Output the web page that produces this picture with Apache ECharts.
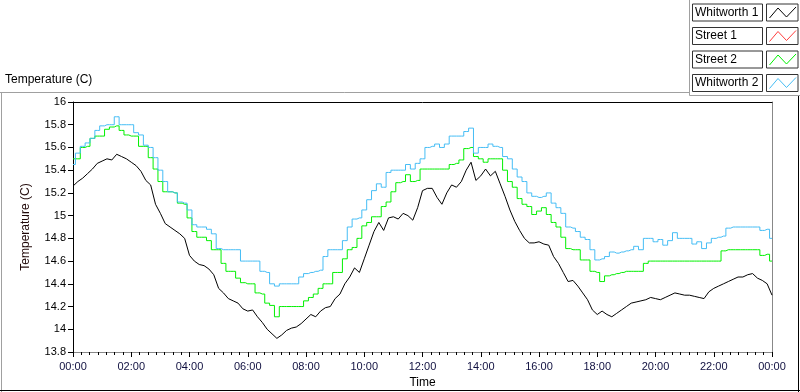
<!DOCTYPE html>
<html>
<head>
<meta charset="utf-8">
<script src="https://cdn.jsdelivr.net/npm/echarts@6/dist/echarts.min.js"></script>
<style>
html,body{margin:0;padding:0;background:#fff;}
#chart{width:800px;height:392px;}
</style>
</head>
<body>
<div id="chart"></div>
<script>
// sample spacing of the series (minutes)
const sampleMinutes = 10;
const seriesNames = ['Whitworth 1', 'Street 1', 'Street 2', 'Whitworth 2'];
const seriesColors = ['#000000', '#ff3c3c', '#00f000', '#45bdf5'];
const xTickLabels = ['00:00','02:00','04:00','06:00','08:00','10:00','12:00','14:00','16:00','18:00','20:00','22:00','00:00'];

const whitworth1 = [
15.26,15.30,15.33,15.37,15.41,15.46,15.48,15.50,15.49,15.54,15.52,15.50,
15.47,15.44,15.39,15.31,15.27,15.10,15.02,14.93,14.90,14.87,14.84,14.80,
14.65,14.60,14.57,14.56,14.53,14.48,14.36,14.32,14.27,14.25,14.23,14.18,
14.16,14.17,14.11,14.06,14.00,13.96,13.92,13.95,13.99,14.01,14.02,14.05,
14.09,14.13,14.11,14.16,14.19,14.20,14.27,14.31,14.40,14.46,14.54,14.50,
14.62,14.74,14.86,14.94,14.87,14.98,14.99,14.97,15.02,15.00,14.96,15.07,
15.22,15.24,15.24,15.16,15.10,15.20,15.27,15.25,15.30,15.40,15.47,15.31,
15.35,15.41,15.35,15.39,15.28,15.17,15.05,14.95,14.87,14.80,14.76,14.76,
14.77,14.75,14.74,14.64,14.58,14.50,14.42,14.43,14.38,14.32,14.26,14.17,
14.13,14.16,14.13,14.11,14.14,14.17,14.20,14.23,14.24,14.25,14.26,14.28,
14.27,14.26,14.28,14.30,14.32,14.31,14.30,14.30,14.29,14.28,14.27,14.33,
14.36,14.38,14.40,14.42,14.44,14.46,14.46,14.48,14.49,14.45,14.43,14.40,
14.30];

const street1 = [];

const street2 = [
15.50,15.50,15.60,15.61,15.68,15.70,15.70,15.76,15.78,15.79,15.75,15.71,
15.70,15.70,15.61,15.61,15.51,15.41,15.30,15.21,15.21,15.20,15.11,15.10,
14.98,14.86,14.81,14.81,14.78,14.70,14.70,14.58,14.51,14.51,14.45,14.41,
14.40,14.40,14.32,14.31,14.23,14.21,14.11,14.20,14.20,14.20,14.20,14.20,
14.25,14.28,14.31,14.36,14.40,14.40,14.50,14.50,14.62,14.70,14.72,14.80,
14.91,14.94,14.99,14.99,15.08,15.12,15.21,15.29,15.30,15.36,15.30,15.31,
15.41,15.41,15.41,15.41,15.41,15.41,15.45,15.46,15.49,15.59,15.60,15.52,
15.50,15.47,15.50,15.50,15.50,15.40,15.30,15.25,15.15,15.10,15.08,15.01,
15.04,15.07,15.01,14.94,14.90,14.81,14.71,14.70,14.70,14.61,14.61,14.51,
14.50,14.42,14.47,14.48,14.49,14.50,14.51,14.51,14.51,14.51,14.58,14.60,
14.60,14.60,14.60,14.60,14.60,14.60,14.60,14.60,14.60,14.60,14.60,14.60,
14.60,14.60,14.69,14.70,14.70,14.70,14.70,14.70,14.70,14.70,14.65,14.66,
14.60];

const whitworth2 = [
15.45,15.55,15.61,15.64,15.68,15.75,15.79,15.80,15.80,15.87,15.80,15.80,
15.80,15.73,15.71,15.62,15.60,15.51,15.40,15.30,15.21,15.20,15.12,15.11,
15.05,14.92,14.90,14.90,14.88,14.84,14.71,14.70,14.70,14.70,14.70,14.60,
14.60,14.60,14.60,14.51,14.50,14.40,14.38,14.40,14.40,14.40,14.40,14.46,
14.49,14.50,14.51,14.52,14.64,14.70,14.70,14.70,14.78,14.90,14.97,14.98,
15.05,15.14,15.22,15.28,15.25,15.38,15.40,15.40,15.40,15.45,15.41,15.46,
15.50,15.60,15.61,15.63,15.60,15.63,15.70,15.70,15.70,15.74,15.77,15.55,
15.60,15.60,15.63,15.61,15.60,15.52,15.50,15.41,15.34,15.30,15.20,15.17,
15.16,15.17,15.20,15.11,15.07,15.02,14.90,14.89,14.86,14.81,14.79,14.70,
14.61,14.62,14.64,14.68,14.67,14.68,14.69,14.70,14.73,14.70,14.80,14.80,
14.77,14.79,14.74,14.78,14.85,14.80,14.80,14.80,14.75,14.77,14.71,14.76,
14.80,14.81,14.82,14.89,14.90,14.90,14.90,14.90,14.90,14.90,14.87,14.88,
14.80];

function pairs(arr){ return arr.map((v,i)=>[i*sampleMinutes/60, v]); }

const FONT = 'Liberation Sans';
const chart = echarts.init(document.getElementById('chart'), null, {renderer:'canvas'});

// legend drawn as graphics (LabVIEW style plot legend)
const legendRowsTop = [4, 27.5, 51, 74.5];
const legendGraphics = [];
seriesNames.forEach((name, i) => {
  const top = legendRowsTop[i];
  legendGraphics.push({
    type:'rect', shape:{x:692.5, y:top, width:70, height:17},
    style:{fill:'#fff', stroke:'#333', lineWidth:1}, silent:true
  });
  legendGraphics.push({
    type:'text', x:695, y:top+8.5,
    style:{text:name, font:'12px "'+FONT+'"', fill:'#000', verticalAlign:'middle', align:'left'}, silent:true
  });
  legendGraphics.push({
    type:'rect', shape:{x:766.5, y:top, width:31.5, height:17},
    style:{fill:'#fff', stroke:'#333', lineWidth:1}, silent:true
  });
  legendGraphics.push({
    type:'polyline', shape:{points:[[769.5,top+14],[778,top+4],[786.5,top+13],[796,top+3]]},
    style:{stroke:seriesColors[i], lineWidth:1, fill:null}, silent:true
  });
});

const option = {
  backgroundColor:'#fff',
  animation:false,
  grid:{left:73, right:28, top:102, bottom:40, outerBoundsMode:'none', containLabel:false},
  graphic:[
    // outer frame
    {type:'line', shape:{x1:0, y1:92.5, x2:689.5, y2:92.5}, style:{stroke:'#a0a0a0', lineWidth:1}, silent:true},
    {type:'line', shape:{x1:1.5, y1:92.5, x2:1.5, y2:392}, style:{stroke:'#a0a0a0', lineWidth:1}, silent:true},
    {type:'line', shape:{x1:0, y1:390.5, x2:800, y2:390.5}, style:{stroke:'#000', lineWidth:1}, silent:true},
    {type:'line', shape:{x1:798.5, y1:95.5, x2:798.5, y2:392}, style:{stroke:'#000', lineWidth:1}, silent:true},
    {type:'line', shape:{x1:689.5, y1:0, x2:689.5, y2:95.5}, style:{stroke:'#a0a0a0', lineWidth:1}, silent:true},
    {type:'line', shape:{x1:689.5, y1:95.5, x2:800, y2:95.5}, style:{stroke:'#a0a0a0', lineWidth:1}, silent:true},
    {type:'text', x:5, y:80, style:{text:'Temperature (C)', font:'12px "'+FONT+'"', fill:'#000', verticalAlign:'middle'}, silent:true}
  ].concat(legendGraphics),
  xAxis:[{
    type:'value', min:0, max:24, interval:2,
    name:'Time', nameLocation:'middle', nameGap:24,
    nameTextStyle:{fontFamily:FONT, fontSize:12, color:'#000'},
    axisLine:{show:true, onZero:false, lineStyle:{color:'#888', width:1}},
    axisTick:{show:true, inside:false, length:5, lineStyle:{color:'#000'}},
    minorTick:{show:true, splitNumber:7, length:3, lineStyle:{color:'#000'}},
    splitLine:{show:false},
    axisLabel:{margin:9, fontFamily:FONT, fontSize:11, color:'#101040',
      formatter:(v)=>xTickLabels[Math.round(v/2)]}
  },{
    type:'value', min:0, max:24, position:'top',
    axisLine:{show:true, onZero:false, lineStyle:{color:'#000', width:1}},
    axisTick:{show:false}, axisLabel:{show:false}, splitLine:{show:false}
  }],
  yAxis:[{
    type:'value', min:13.8, max:16, interval:0.2,
    name:'Temperature (C)', nameLocation:'middle', nameGap:41, nameRotate:90,
    nameTextStyle:{fontFamily:FONT, fontSize:12, color:'#200808'},
    axisLine:{show:true, onZero:false, lineStyle:{color:'#000', width:1}},
    axisTick:{show:true, length:5, lineStyle:{color:'#000'}},
    splitLine:{show:false},
    axisLabel:{margin:7, fontFamily:FONT, fontSize:11, color:'#000',
      formatter:(v)=>String(Math.round(v*10)/10)}
  },{
    type:'value', min:13.8, max:16, position:'right',
    axisLine:{show:true, onZero:false, lineStyle:{color:'#888', width:1}},
    axisTick:{show:false}, axisLabel:{show:false}, splitLine:{show:false}
  }],
  series:[
    {name:seriesNames[0], type:'line', data:pairs(whitworth1), showSymbol:false, symbol:'none',
      lineStyle:{color:seriesColors[0], width:1}, itemStyle:{color:seriesColors[0]}, z:2},
    {name:seriesNames[1], type:'line', data:pairs(street1), showSymbol:false, symbol:'none',
      lineStyle:{color:seriesColors[1], width:1}, itemStyle:{color:seriesColors[1]}, z:3},
    {name:seriesNames[2], type:'line', data:pairs(street2), step:'middle', showSymbol:false, symbol:'none',
      lineStyle:{color:seriesColors[2], width:1}, itemStyle:{color:seriesColors[2]}, z:4},
    {name:seriesNames[3], type:'line', data:pairs(whitworth2), step:'middle', showSymbol:false, symbol:'none',
      lineStyle:{color:seriesColors[3], width:1}, itemStyle:{color:seriesColors[3]}, z:5}
  ]
};
chart.setOption(option);
</script>
</body>
</html>
